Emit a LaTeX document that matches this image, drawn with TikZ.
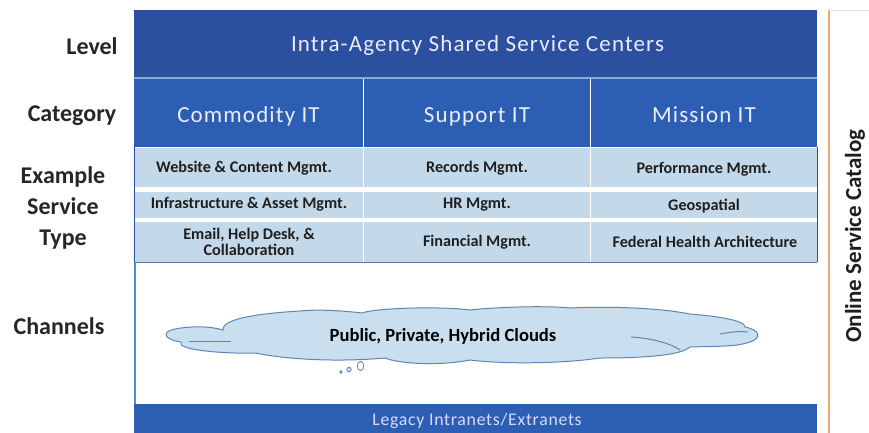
\documentclass[tikz,border=0pt]{standalone}
\usepackage{fontspec}
\setmainfont{Carlito}
\newfontfamily\spaced[LetterSpace=5]{Carlito}
\newfontfamily\spacedb[LetterSpace=4]{Carlito}
\definecolor{bandDark}{HTML}{2A509F}
\definecolor{bandMid}{HTML}{2C5FB4}
\definecolor{cellBlue}{HTML}{C3D9EA}
\definecolor{cloudBlue}{HTML}{C9DFF0}
\definecolor{cloudEdge}{HTML}{5F86B0}
\definecolor{sideLine}{HTML}{F0A878}
\definecolor{leftLine}{HTML}{3E97D0}
\tikzset{
  x=1pt,y=-1pt,
  leftlabel/.style={font=\fontsize{24}{31}\selectfont\bfseries,align=center,text=black!85},
  headtext/.style={font=\fontsize{23}{25}\spaced\selectfont,text=white!92!blue,anchor=base},
  celltext/.style={font=\fontsize{16.2}{16}\selectfont\bfseries,align=center,text=black!88,inner sep=0pt},
  band/.style={fill=bandDark,draw=none},
  cell/.style={fill=cellBlue,draw=none},
}
\begin{document}
\begin{tikzpicture}
\useasboundingbox (0,0) rectangle (869,433);
\fill[white] (0,0) rectangle (869,433);
% frame lines
\draw[leftLine,line width=2pt] (134.5,262) -- (134.5,404);
\draw[sideLine,line width=2.4pt] (829,10) -- (829,433);
\draw[black!12,line width=.6pt] (831,10) -- (869,10);
% bands
\node[band,minimum width=683,minimum height=67,inner sep=0pt,anchor=north west] (top) at (134,10) {};
\node[headtext] (toptext) at (477.5,52) {Intra-Agency Shared Service Centers};
\fill[bandMid!55!white] (134,77.5) rectangle (817,79);
\foreach \nm/\xa/\xb/\txt in {c/134/363/Commodity IT,s/364/590/Support IT,m/591/817/Mission IT}{
  \fill[bandMid] (\xa,79) rectangle (\xb,147);
  \node[headtext] (cat\nm) at ({(\xa+\xb)/2},122) {\txt};
}
\foreach \xa/\xb in {134/363,364/590,591/817}{
  \fill[cell] (\xa,148) rectangle (\xb,187);
  \fill[cell] (\xa,192) rectangle (\xb,218);
  \fill[cell] (\xa,222) rectangle (\xb,262);
}
\draw[bandDark!70!black!70,line width=1pt] (134,262.5) -- (817,262.5);
\draw[bandDark,line width=1pt] (134,147) -- (134,262);
\draw[bandDark,line width=1pt] (817,147) -- (817,262);
% cell text
\node[celltext] (a1) at (244,168) {Website \& Content Mgmt.};
\node[celltext] (a2) at (249,204) {Infrastructure \& Asset Mgmt.};
\node[celltext,font=\fontsize{16.2}{15.5}\selectfont\bfseries] (a3) at (249,242) {Email, Help Desk, \&\\Collaboration};
\node[celltext] (b1) at (477,168) {Records Mgmt.};
\node[celltext] (b2) at (477,205) {HR Mgmt.};
\node[celltext] (b3) at (477,242) {Financial Mgmt.};
\node[celltext] (c1) at (704,169) {Performance Mgmt.};
\node[celltext] (c2) at (704,206) {Geospatial};
\node[celltext] (c3) at (705,242) {Federal Health Architecture};
% cloud
\path[fill=cloudBlue,draw=cloudEdge,line width=1pt] (223,330)
  .. controls (222,320) and (250,314) .. (300,311)
  .. controls (320,309) and (345,311) .. (362,313)
  .. controls (375,308) and (440,306) .. (470,310)
  .. controls (485,308) and (540,305) .. (570,308)
  .. controls (610,306) and (660,308) .. (690,314)
  .. controls (715,316) and (745,320) .. (745,327)
  .. controls (760,330) and (762,338) .. (750,342)
  .. controls (735,347) and (720,346) .. (690,347)
  .. controls (680,356) and (640,358) .. (600,358)
  .. controls (560,364) and (500,364) .. (470,360)
  .. controls (440,366) and (400,364) .. (385,358)
  .. controls (340,362) and (290,360) .. (255,353)
  .. controls (225,354) and (175,350) .. (181,342)
  .. controls (165,340) and (160,332) .. (175,329)
  .. controls (190,326) and (210,326) .. (223,330) -- cycle;
\draw[cloudEdge,line width=1pt] (189,341) -- (231,341);
\draw[cloudEdge,line width=1pt] (631,337) .. controls (650,338) and (670,343) .. (680,350);
\draw[cloudEdge,line width=1pt] (720,334) .. controls (730,332) and (740,331) .. (748,332);
\node[font=\fontsize{18.6}{20}\selectfont\bfseries,text=black,inner sep=0pt] (cloudtext) at (443,336) {Public, Private, Hybrid Clouds};
\draw[cloudEdge,fill=cloudBlue,line width=.8pt] (341,372) circle (1.2);
\draw[cloudEdge,fill=cloudBlue,line width=.8pt] (349,369.5) circle (2.2);
\draw[cloudEdge,fill=white,line width=.8pt] (360.5,366) ellipse (3.2 and 4.6);
% bottom band
\node[fill=bandMid,minimum width=683,minimum height=29,inner sep=0pt,anchor=north west] (legacy) at (134,404) {};
\node[font=\fontsize{17.8}{18}\spacedb\selectfont,text=white!85!blue] (legacytext) at (477,421) {Legacy Intranets/Extranets};
% left labels
\node[leftlabel] (l1) at (92,46) {Level};
\node[leftlabel] (l2) at (72,116) {Category};
\node[leftlabel] (l3) at (63,208) {Example\\Service\\Type};
\node[leftlabel] (l4) at (59,326) {Channels};
% right label
\node[rotate=90,font=\fontsize{23}{25}\selectfont\bfseries,text=black!88] (cat) at (855,236) {Online Service Catalog};
\end{tikzpicture}
\end{document}
